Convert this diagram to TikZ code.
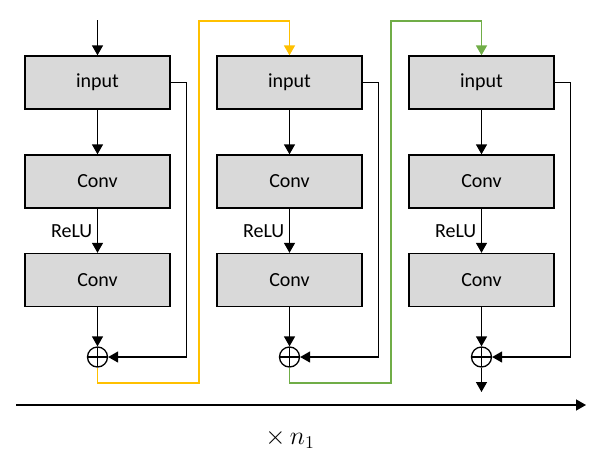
\documentclass[tikz,border=0pt]{standalone}
\usepackage{fontspec}
\setmainfont{Carlito}
\usetikzlibrary{arrows.meta}
\definecolor{boxgray}{HTML}{D9D9D9}
\definecolor{yel}{HTML}{FFC000}
\definecolor{grn}{HTML}{70AD47}
\begin{document}
\begin{tikzpicture}[x=1pt,y=-1pt,
  blk/.style={draw=black,line width=1.4pt,fill=boxgray,minimum width=145pt,minimum height=53pt,inner sep=0pt,font=\fontsize{20}{22}\selectfont},
  addop/.style={draw=black,line width=1.3pt,circle,minimum size=20pt,inner sep=0pt,fill=white,
    path picture={\draw[line width=1.2pt] (path picture bounding box.north) -- (path picture bounding box.south)
      (path picture bounding box.west) -- (path picture bounding box.east);}},
  conn/.style={line width=1.4pt,-{Triangle[length=10pt,width=11pt]}},
  yconn/.style={draw=yel,line width=1.8pt,-{Triangle[length=10pt,width=11pt]}},
  gconn/.style={draw=grn,line width=1.8pt,-{Triangle[length=10pt,width=11pt]}},
  lbl/.style={font=\fontsize{20}{22}\selectfont,inner sep=0pt}]
\useasboundingbox (0,0) rectangle (598,467);
\foreach \i/\x in {1/97.5,2/289.5,3/481.5}{
  \node[blk] (in\i) at (\x,82.5) {input};
  \node[blk] (ca\i) at (\x,181.5) {Conv};
  \node[blk] (cb\i) at (\x,280) {Conv};
  \node[addop] (p\i) at (\x,357) {};
  \draw[conn] (in\i) -- (ca\i);
  \draw[conn] (ca\i) -- (cb\i);
  \draw[conn] (cb\i) -- (p\i);
  \draw[conn] (in\i.east) -- ++(16,0) |- (p\i.east);
  \node[lbl,anchor=east] (relu\i) at (\x-5,231) {ReLU};
}
\coordinate (start) at (97.5,20);
\draw[conn] (start) -- (in1);
\draw[yconn] (p1.south) -- (97.5,383) -| (199,21) -| (in2.north);
\draw[gconn] (p2.south) -- (289.5,383) -| (391,21) -| (in3.north);
\coordinate (out) at (481.5,392);
\draw[conn] (p3.south) -- (out);
\coordinate (ax0) at (16,405);
\coordinate (ax1) at (586,405);
\draw[conn] (ax0) -- (ax1);
\node[inner sep=0pt,font=\fontsize{20}{24}\selectfont,scale=1.25] (rep) at (290,439) {$\times\, n_1$};
\end{tikzpicture}
\end{document}
